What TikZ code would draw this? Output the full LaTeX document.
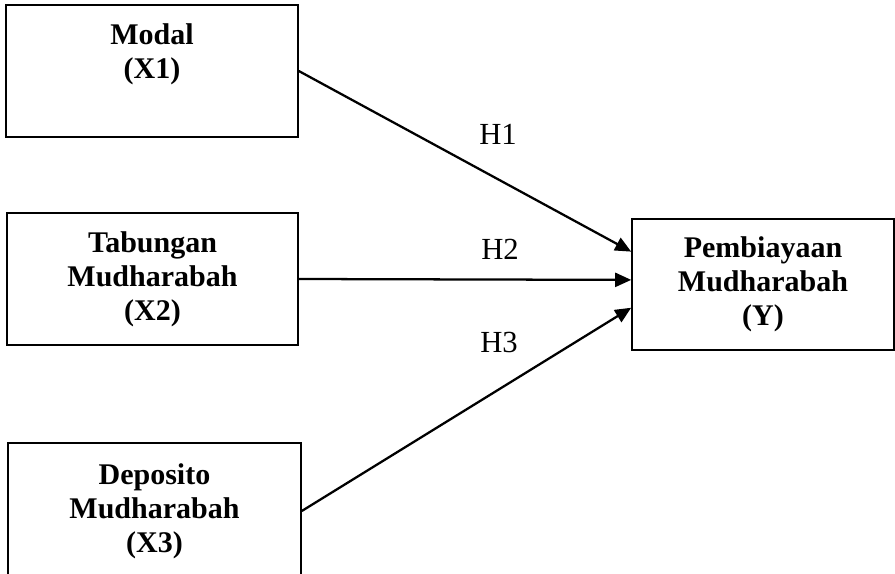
\documentclass[tikz,border=0pt]{standalone}
\usepackage{fontspec}
\setmainfont{Liberation Serif}
\usetikzlibrary{shapes}
\usetikzlibrary{arrows.meta}
\usetikzlibrary{positioning}

\begin{document}
\begin{tikzpicture}[x=0.75pt,y=-0.75pt,var/.style={draw,line width=1.2pt,rectangle,inner sep=0pt,align=center,font=\fontsize{22.5}{25.5}\selectfont\bfseries},hyp/.style={font=\fontsize{23}{26}\selectfont,inner sep=0pt},link/.style={-{Triangle[length=12pt,width=10.5pt]},line width=1.7pt}]

        \useasboundingbox (0,0) rectangle (895,574);

        \node[var,minimum width=219pt,minimum height=99pt,text depth=30pt] (x1) at (152,71) {Modal\\(X1)};
        \node[var,minimum width=218.25pt,minimum height=99pt] (x2) at (152.5,279) {Tabungan\\Mudharabah\\(X2)};
        \node[var,minimum width=219.75pt,minimum height=102pt] (x3) at (154.5,511) {Deposito\\Mudharabah\\(X3)};
        \node[var,minimum width=196.5pt,minimum height=98.25pt] (y) at (763,284.5) {Pembiayaan\\Mudharabah\\(Y)};

        \node[hyp] (h1) at (498,134) {H1};
        \node[hyp] (h2) at (500,249) {H2};
        \node[hyp] (h3) at (499,342) {H3};

        \draw[link] (x1.east) -- (y.166);
        \draw[link] (x2.east) -- (y.178);
        \draw[link] (x3.east) -- (y.190);

\end{tikzpicture}
\end{document}
